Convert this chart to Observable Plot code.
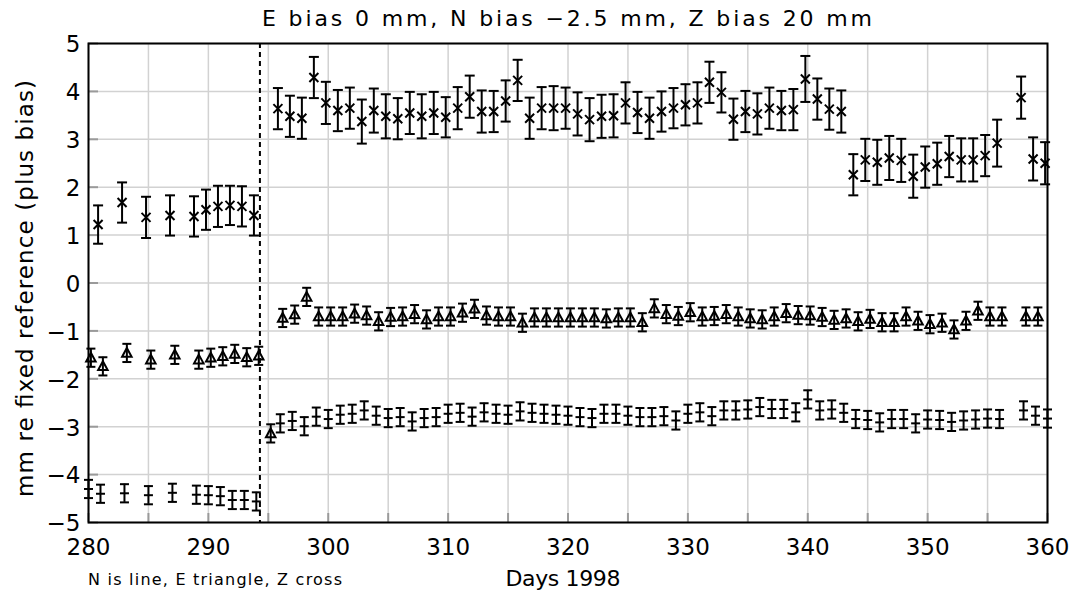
<!DOCTYPE html>
<html>
<head>
<meta charset="utf-8">
<script src="https://cdn.jsdelivr.net/npm/d3@7"></script>
<script src="https://cdn.jsdelivr.net/npm/@observablehq/plot@0.6"></script>
<style>
  body { margin: 0; background: #fff; }
</style>
</head>
<body>
<div id="chart"></div>
<script>
// ---------- text ----------
const titleText = "E bias 0 mm, N bias \u22122.5 mm, Z bias 20 mm";
const yLabelText = "mm re fixed reference (plus bias)";
const xLabelText = "Days 1998";
const captionText = "N is line, E triangle, Z cross";

// ---------- ticks ----------
const xLabelTicks = [280, 290, 300, 310, 320, 330, 340, 350, 360];
const xGridTicks = [280, 285, 290, 295, 300, 305, 310, 315, 320, 325, 330, 335, 340, 345, 350, 355, 360];
const yTicks = [-5, -4, -3, -2, -1, 0, 1, 2, 3, 4, 5];

// ---------- data ----------
// day of year 1998
const days = [280, 281, 283, 285, 287, 289,
  290, 291, 292, 293, 294, 295, 296, 297, 298, 299,
  300, 301, 302, 303, 304, 305, 306, 307, 308, 309,
  310, 311, 312, 313, 314, 315, 316, 317, 318, 319,
  320, 321, 322, 323, 324, 325, 326, 327, 328, 329,
  330, 331, 332, 333, 334, 335, 336, 337, 338, 339,
  340, 341, 342, 343, 344, 345, 346, 347, 348, 349,
  350, 351, 352, 353, 354, 355, 356,
  358, 359, 360];

// N (line marker)
const nVals = [-4.30, -4.40, -4.39, -4.43, -4.38, -4.42,
  -4.43, -4.45, -4.53, -4.53, -4.56, null, -2.93, -2.88, -2.99, -2.79,
  -2.84, -2.75, -2.73, -2.66, -2.77, -2.82, -2.80, -2.89, -2.82, -2.80,
  -2.73, -2.71, -2.79, -2.70, -2.73, -2.75, -2.68, -2.71, -2.73, -2.75,
  -2.77, -2.80, -2.82, -2.73, -2.73, -2.77, -2.80, -2.80, -2.78, -2.87,
  -2.73, -2.70, -2.78, -2.66, -2.66, -2.64, -2.59, -2.63, -2.63, -2.70,
  -2.43, -2.66, -2.64, -2.71, -2.84, -2.86, -2.91, -2.84, -2.84, -2.93,
  -2.85, -2.86, -2.90, -2.87, -2.85, -2.83, -2.84,
  -2.66, -2.77, -2.83];

// E (triangle marker)
const eVals = [-1.56, -1.74, -1.46, -1.60, -1.50, -1.60,
  -1.56, -1.53, -1.48, -1.55, -1.52, -3.14, -0.73, -0.66, -0.29, -0.70,
  -0.70, -0.70, -0.64, -0.68, -0.80, -0.71, -0.70, -0.65, -0.76, -0.70,
  -0.70, -0.62, -0.54, -0.68, -0.70, -0.70, -0.83, -0.72, -0.72, -0.72,
  -0.72, -0.72, -0.72, -0.74, -0.72, -0.72, -0.82, -0.53, -0.65, -0.69,
  -0.61, -0.70, -0.69, -0.65, -0.70, -0.74, -0.76, -0.70, -0.63, -0.67,
  -0.68, -0.71, -0.77, -0.74, -0.80, -0.75, -0.82, -0.82, -0.70, -0.79,
  -0.86, -0.83, -0.97, -0.79, -0.58, -0.70, -0.70,
  -0.70, -0.70, null];

// Z (cross marker)
const zVals = [null, 1.22, 1.68, 1.37, 1.41, 1.39,
  1.53, 1.60, 1.62, 1.60, 1.41, null, 3.64, 3.48, 3.44, 4.29,
  3.76, 3.60, 3.65, 3.37, 3.60, 3.48, 3.43, 3.55, 3.48, 3.55,
  3.46, 3.65, 3.89, 3.58, 3.58, 3.80, 4.23, 3.44, 3.65, 3.65,
  3.65, 3.53, 3.41, 3.48, 3.49, 3.76, 3.56, 3.44, 3.58, 3.65,
  3.72, 3.76, 4.19, 3.98, 3.42, 3.58, 3.53, 3.65, 3.60, 3.62,
  4.26, 3.84, 3.63, 3.58, 2.26, 2.57, 2.52, 2.61, 2.56, 2.23,
  2.42, 2.49, 2.64, 2.57, 2.57, 2.66, 2.92,
  3.87, 2.59, 2.50];

const zErr = [null, 0.40, 0.42, 0.43, 0.42, 0.42,
  0.42, 0.43, 0.41, 0.42, 0.42, null, 0.43, 0.43, 0.43, 0.43,
  0.44, 0.43, 0.43, 0.46, 0.46, 0.46, 0.43, 0.44, 0.46, 0.44,
  0.42, 0.44, 0.44, 0.44, 0.43, 0.43, 0.43, 0.43, 0.44, 0.46,
  0.43, 0.45, 0.45, 0.45, 0.45, 0.43, 0.43, 0.43, 0.42, 0.42,
  0.43, 0.43, 0.43, 0.42, 0.43, 0.43, 0.43, 0.43, 0.41, 0.43,
  0.48, 0.43, 0.43, 0.44, 0.43, 0.44, 0.47, 0.46, 0.45, 0.45,
  0.43, 0.44, 0.43, 0.45, 0.45, 0.43, 0.49,
  0.44, 0.45, 0.44];

const nErr = 0.19;
const eErr = 0.19;

// epoch shift of each series relative to the day number (days)
const nDayShift = 0.0;
const eDayShift = 0.2;
const zDayShift = -0.2;

// day of the reference change (dashed line)
const changeDay = [294.3];

// ---------- build tables ----------
function series(vals, err, shift) {
  return days.map((d, i) => ({
    x: d + shift,
    y: vals[i],
    e: Array.isArray(err) ? err[i] : err
  })).filter(r => r.y != null);
}
const nData = series(nVals, nErr, nDayShift);
const eData = series(eVals, eErr, eDayShift);
const zData = series(zVals, zErr, zDayShift);

// ---------- custom symbols ----------
const hbar = { draw(ctx, size) { const r = Math.sqrt(size / Math.PI); ctx.moveTo(-r, 0); ctx.lineTo(r, 0); } };
const xcross = { draw(ctx, size) { const r = Math.sqrt(size / Math.PI); ctx.moveTo(-r, -r); ctx.lineTo(r, r); ctx.moveTo(-r, r); ctx.lineTo(r, -r); } };
const tri = { draw(ctx, size) { const r = Math.sqrt(size / Math.PI); ctx.moveTo(0, -r); ctx.lineTo(r * 0.95, r * 0.75); ctx.lineTo(-r * 0.95, r * 0.75); ctx.closePath(); } };

const ink = { stroke: "black", strokeWidth: 2, fill: "none" };

function errorBars(data, cap) {
  return [
    Plot.ruleX(data, { x: "x", y1: d => d.y - d.e, y2: d => d.y + d.e, stroke: "black", strokeWidth: 2 }),
    Plot.dot(data, { x: "x", y: d => d.y - d.e, symbol: hbar, r: cap, ...ink }),
    Plot.dot(data, { x: "x", y: d => d.y + d.e, symbol: hbar, r: cap, ...ink })
  ];
}

const fmt = d => (d < 0 ? "\u2212" + (-d) : String(d));

const chart = Plot.plot({
  width: 1073,
  height: 592,
  marginLeft: 88,
  marginRight: 26,
  marginTop: 43,
  marginBottom: 70,
  style: { fontFamily: "DejaVu Sans", fontSize: "23px", color: "black", background: "white" },
  x: { domain: [280, 360], label: null },
  y: { domain: [-5, 5], label: null },
  marks: [
    Plot.gridX(xGridTicks, { stroke: "#d2d2d2", strokeOpacity: 1, strokeWidth: 1.5 }),
    Plot.gridY(yTicks, { stroke: "#d2d2d2", strokeOpacity: 1, strokeWidth: 1.5 }),
    Plot.axisX(xGridTicks, { tickSize: 9, dy: -9, tickFormat: () => "", stroke: "#9a9a9a", strokeWidth: 2, label: null }),
    Plot.axisY(yTicks, { tickSize: 10, dx: 10, tickFormat: () => "", stroke: "#9a9a9a", strokeWidth: 2, label: null }),
    Plot.axisX(xLabelTicks, { tickSize: 0, tickPadding: 16, fontSize: 23, tickFormat: fmt, label: null }),
    Plot.axisY(yTicks, { tickSize: 0, tickPadding: 8, fontSize: 23, dy: 1.5, tickFormat: fmt, label: null }),
    Plot.ruleX(changeDay, { stroke: "black", strokeWidth: 2, strokeDasharray: "5,4" }),
    ...errorBars(nData, 4.5),
    ...errorBars(eData, 4.5),
    ...errorBars(zData, 5),
    Plot.dot(nData, { x: "x", y: "y", symbol: hbar, r: 4.5, ...ink }),
    Plot.dot(eData, { x: "x", y: "y", symbol: tri, r: 5, ...ink }),
    Plot.dot(zData, { x: "x", y: "y", symbol: xcross, r: 4.5, ...ink }),
    Plot.frame({ stroke: "black", strokeWidth: 2 })
  ]
});

document.getElementById("chart").appendChild(chart);

// ---------- titles and labels ----------
const svg = d3.select(chart);
svg.append("text")
  .attr("x", 567).attr("y", 26)
  .attr("text-anchor", "middle")
  .attr("font-size", 22)
  .attr("fill", "black")
  .attr("textLength", 610).attr("lengthAdjust", "spacing")
  .text(titleText);
svg.append("text")
  .attr("transform", "translate(33,497) rotate(-90)")
  .attr("text-anchor", "start")
  .attr("font-size", 23)
  .attr("fill", "black")
  .attr("textLength", 417).attr("lengthAdjust", "spacing")
  .text(yLabelText);
svg.append("text")
  .attr("x", 563).attr("y", 586)
  .attr("text-anchor", "middle")
  .attr("font-size", 22)
  .attr("fill", "black")
  .attr("textLength", 115).attr("lengthAdjust", "spacing")
  .text(xLabelText);
svg.append("text")
  .attr("x", 88).attr("y", 585)
  .attr("text-anchor", "start")
  .attr("font-size", 16)
  .attr("fill", "black")
  .attr("textLength", 254).attr("lengthAdjust", "spacing")
  .text(captionText);
</script>
</body>
</html>
